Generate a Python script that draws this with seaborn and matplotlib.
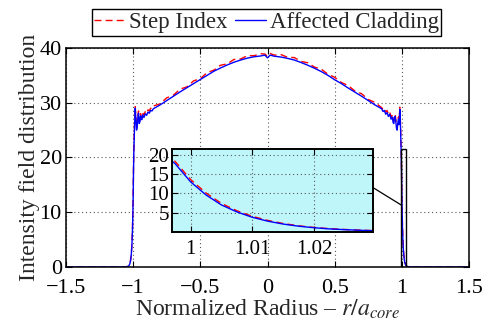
import matplotlib
matplotlib.use("Agg")
import matplotlib.pyplot as plt
import seaborn as sns
from matplotlib import font_manager
from matplotlib.patches import Rectangle, ConnectionPatch

# ---------------- data ----------------
radius = [
    -1.5, -1.1, -1.06, -1.04, -1.035, -1.03, -1.0275, -1.025, -1.0225, -1.02,
    -1.0175, -1.015, -1.0125, -1.01, -1.0075, -1.005, -1.0025, -1.0, -0.9975, -0.9965,
    -0.995, -0.99, -0.985, -0.98, -0.975, -0.97, -0.965, -0.96, -0.955, -0.95,
    -0.945, -0.94, -0.935, -0.93, -0.92, -0.91, -0.90, -0.89, -0.88, -0.87,
    -0.86, -0.85, -0.80, -0.75, -0.70, -0.65, -0.60, -0.55, -0.50, -0.45,
    -0.40, -0.35, -0.30, -0.25, -0.20, -0.15, -0.10, -0.05, -0.02, 0.0,
    0.02, 0.05, 0.10, 0.15, 0.20, 0.25, 0.30, 0.35, 0.40, 0.45,
    0.50, 0.55, 0.60, 0.65, 0.70, 0.75, 0.80, 0.85, 0.86, 0.87,
    0.88, 0.89, 0.90, 0.91, 0.92, 0.93, 0.935, 0.94, 0.945, 0.95,
    0.955, 0.96, 0.965, 0.97, 0.975, 0.98, 0.985, 0.99, 0.995, 0.9965,
    0.9975, 1.0, 1.0025, 1.005, 1.0075, 1.01, 1.0125, 1.015, 1.0175, 1.02,
    1.0225, 1.025, 1.0275, 1.03, 1.035, 1.04, 1.06, 1.1, 1.5,
]

affected_cladding = [
    0, 0, 0.01, 0.09, 0.17, 0.32, 0.44, 0.6, 0.8, 1.1,
    1.5, 2.05, 2.8, 3.8, 5.2, 7.0, 9.6, 13.0, 17.7, 19.0,
    21.0, 25.5, 29.0, 27.2, 25.0, 25.6, 27.4, 28.1, 26.2, 26.5,
    27.6, 27.0, 26.9, 27.8, 27.3, 28.0, 27.7, 28.3, 28.1, 28.6,
    28.5, 28.9, 29.6, 30.4, 31.2, 32.0, 32.75, 33.5, 34.25, 35.0,
    35.75, 36.35, 36.9, 37.4, 37.8, 38.15, 38.4, 38.55, 38.7, 38.2,
    38.7, 38.5, 38.35, 38.1, 37.8, 37.35, 36.85, 36.3, 35.7, 35.0,
    34.2, 33.5, 32.7, 31.95, 31.2, 30.4, 29.6, 28.9, 28.4, 28.6,
    27.9, 28.2, 27.5, 27.9, 27.0, 27.4, 26.4, 26.2, 27.3, 27.5,
    26.6, 25.4, 25.0, 26.2, 27.0, 26.0, 28.8, 25.8, 21.0, 19.0,
    17.7, 13.0, 9.6, 7.0, 5.2, 3.8, 2.8, 2.05, 1.5, 1.1,
    0.8, 0.6, 0.44, 0.32, 0.17, 0.09, 0.01, 0, 0,
]

step_index = [
    0, 0, 0.01, 0.1, 0.19, 0.35, 0.48, 0.65, 0.86, 1.18,
    1.6, 2.2, 3.0, 4.05, 5.5, 7.4, 10.1, 13.6, 18.3, 19.6,
    21.6, 26.0, 29.3, 27.6, 25.4, 26.0, 27.8, 28.5, 26.6, 26.9,
    28.0, 27.4, 27.3, 28.2, 27.7, 28.4, 28.1, 28.7, 28.5, 29.0,
    28.9, 29.4, 29.8, 30.9, 31.4, 32.5, 32.9, 34.0, 34.4, 35.5,
    35.95, 36.85, 37.1, 37.9, 38.0, 38.6, 38.6, 38.95, 38.9, 38.5,
    39.0, 38.7, 38.8, 38.3, 38.25, 37.55, 37.3, 36.5, 36.15, 35.2,
    34.65, 33.7, 33.15, 32.15, 31.65, 30.6, 30.05, 29.1, 28.8, 29.0,
    28.3, 28.6, 27.9, 28.3, 27.4, 27.8, 26.8, 26.6, 27.7, 27.9,
    27.0, 25.8, 25.4, 26.6, 27.4, 26.4, 29.2, 26.3, 21.6, 19.6,
    18.3, 13.6, 10.1, 7.4, 5.5, 4.05, 3.0, 2.2, 1.6, 1.18,
    0.86, 0.65, 0.48, 0.35, 0.19, 0.1, 0.01, 0, 0,
]

series_names = ["Step Index", "Affected Cladding"]
x_ticks = [-1.5, -1.0, -0.5, 0.0, 0.5, 1.0, 1.5]
x_tick_labels = ["\u22121.5", "\u22121", "\u22120.5", "0", "0.5", "1", "1.5"]
y_ticks = [0, 10, 20, 30, 40]
inset_x_ticks = [1.0, 1.01, 1.02]
inset_x_tick_labels = ["1", "1.01", "1.02"]
inset_y_ticks = [5, 10, 15, 20]

# ---------------- style ----------------
sns.set_style("white")
available = {f.name for f in font_manager.fontManager.ttflist}
serif_choice = [n for n in ["Liberation Serif", "STIXGeneral", "DejaVu Serif"]
                if n in available]
plt.rcParams["font.family"] = serif_choice
plt.rcParams["mathtext.fontset"] = "stix"

fig = plt.figure(figsize=(4.84, 3.27), dpi=100)
ax = fig.add_axes([0.1364, 0.1835, 0.8326, 0.6697])


def draw_lines(a):
    sns.lineplot(x=radius, y=step_index, ax=a, color="red", linewidth=1.0,
                 linestyle=(0, (5, 3)), estimator=None, sort=False,
                 label=series_names[0], legend=False)
    sns.lineplot(x=radius, y=affected_cladding, ax=a, color="blue",
                 linewidth=1.0, estimator=None, sort=False,
                 label=series_names[1], legend=False)


def style_axes(a, lw, labelsize, pad_x, pad_y):
    for s in a.spines.values():
        s.set_visible(True)
        s.set_color("black")
        s.set_linewidth(lw)
    a.grid(True, linestyle=(0, (1, 2.5)), color="0.35", linewidth=0.8)
    a.tick_params(axis="both", direction="in", length=4, width=0.8,
                  colors="black", labelsize=labelsize,
                  bottom=True, top=True, left=True, right=True)
    a.tick_params(axis="x", pad=pad_x)
    a.tick_params(axis="y", pad=pad_y)
    for t in a.get_xticklabels() + a.get_yticklabels():
        t.set_family(serif_choice)


draw_lines(ax)
ax.set_xlim(-1.5, 1.5)
ax.set_ylim(0, 40)
ax.set_xticks(x_ticks)
ax.set_xticklabels(x_tick_labels)
ax.set_yticks(y_ticks)
style_axes(ax, 1.1, 16, 8.5, 3)
ax.set_xlabel("Normalized Radius \u2013 $r/a_{core}$", fontsize=17, labelpad=0)
ax.set_ylabel("Intensity field distribution", fontsize=17, labelpad=0)

# inset
axins = fig.add_axes([0.3554, 0.2905, 0.4153, 0.2538])
axins.set_facecolor("#bff6fa")
draw_lines(axins)
axins.set_xlim(0.997, 1.0295)
axins.set_ylim(0, 21.5)
axins.set_xticks(inset_x_ticks)
axins.set_xticklabels(inset_x_tick_labels)
axins.set_yticks(inset_y_ticks)
axins.set_xlabel("")
axins.set_ylabel("")
style_axes(axins, 1.4, 15, 6, 2)

# zoom rectangle and connector
ax.add_patch(Rectangle((0.997, 0), 0.0325, 21.5, fill=False,
                       edgecolor="black", linewidth=1.0, zorder=5))
con = ConnectionPatch(xyA=(1.0295, 11.5), coordsA=axins.transData,
                      xyB=(0.997, 11.3), coordsB=ax.transData,
                      color="black", linewidth=0.9)
fig.add_artist(con)

# legend
handles = ax.get_lines()[:2]
leg = fig.legend(handles, series_names, loc="center",
                 bbox_to_anchor=(0.5506, 0.931), ncol=2, fontsize=16.5,
                 frameon=True, fancybox=False, edgecolor="black",
                 framealpha=1, handlelength=1.35, handletextpad=0.15,
                 columnspacing=0.35, borderpad=0.12, borderaxespad=0)
leg.get_frame().set_linewidth(1.0)

fig.savefig("out.png", dpi=100)
